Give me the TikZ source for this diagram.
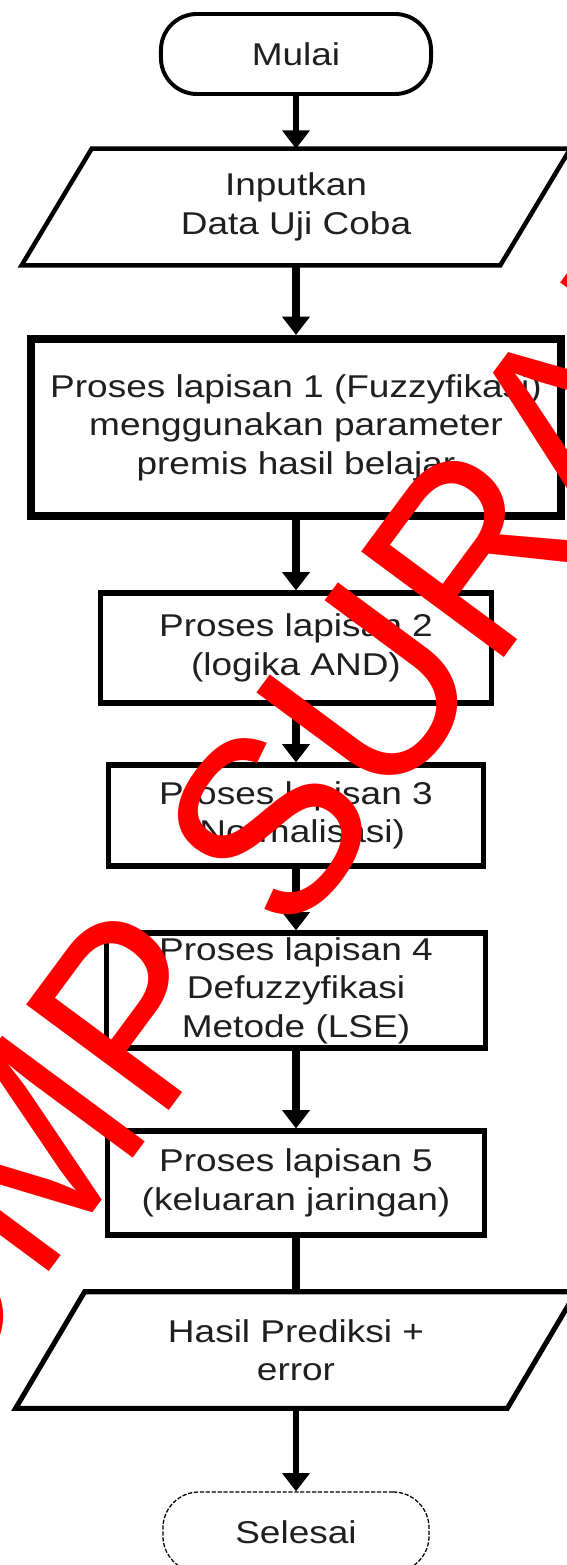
\documentclass[tikz,border=0pt]{standalone}
\usepackage{fontspec}
\setmainfont{Liberation Sans}[FakeStretch=1.175]
\newfontfamily\wmfont{Liberation Sans}[FakeStretch=0.935]
\usetikzlibrary{arrows.meta}

\newcommand{\flowfont}{\fontsize{22.4pt}{27.4pt}\selectfont}

\tikzset{
  flowtext/.style={font=\flowfont, align=center, inner sep=0pt, text=black!88},
  termbox/.style={flowtext, draw, line width=2.8pt, rounded corners=0.9cm},
  endbox/.style={flowtext, draw, line width=0.9pt, dash pattern=on 3pt off 1.2pt, rounded corners=0.9cm},
  procbox/.style={flowtext, draw, line width=3.6pt},
  bigbox/.style={flowtext, draw, line width=5.7pt},
  iobox/.style={flowtext},
  ioline/.style={line width=#1, line join=miter},
  thinarrow/.style={line width=3.6pt, -{Triangle[width=19pt,length=13pt]}},
  thickarrow/.style={line width=6pt, -{Triangle[width=19pt,length=13pt]}},
  thickline/.style={line width=6pt},
  watermark/.style={text=red, font=\wmfont\fontsize{183.5pt}{183.5pt}\selectfont,
    inner sep=0pt, anchor=base west}
}

\begin{document}
\begin{tikzpicture}[x=0.025cm, y=0.025cm]
  % page frame
  \fill[white] (0,0) rectangle (566,-1565);
  \useasboundingbox (0,0) rectangle (566,-1565);

  % flowchart nodes
  \node[termbox, minimum width=6.75cm, minimum height=2.0cm] (mulai) at (296,-54) {Mulai};

  \node[iobox, minimum width=13.7cm, minimum height=2.9cm] (input) at (296,-207)
    {Inputkan\\Data Uji Coba};
  \draw[ioline=3.2pt] ([xshift=1.75cm]input.north west) -- (input.north east)
    -- ([xshift=-1.75cm]input.south east) -- (input.south west) -- cycle;

  \node[bigbox, minimum width=13.225cm, minimum height=4.425cm] (lap1) at (296,-427.5)
    {Proses lapisan 1 (Fuzzyfikasi)\\menggunakan parameter\\premis hasil belajar};

  \node[procbox, minimum width=9.75cm, minimum height=2.75cm] (lap2) at (296,-648)
    {Proses lapisan 2\\(logika AND)};

  \node[procbox, minimum width=9.35cm, minimum height=2.525cm] (lap3) at (296,-815.5)
    {Proses lapisan 3\\(Normalisasi)};

  \node[procbox, minimum width=9.45cm, minimum height=2.875cm] (lap4) at (296,-990.5)
    {Proses lapisan 4\\Defuzzyfikasi\\Metode (LSE)};

  \node[procbox, minimum width=9.4cm, minimum height=2.6cm] (lap5) at (296,-1183)
    {Proses lapisan 5\\(keluaran jaringan)};

  \node[iobox, minimum width=14cm, minimum height=2.9cm] (hasil) at (296,-1350)
    {Hasil Prediksi +\\error};
  \draw[ioline=3.6pt] ([xshift=1.725cm]hasil.north west) -- (hasil.north east)
    -- ([xshift=-1.725cm]hasil.south east) -- (hasil.south west) -- cycle;

  \node[endbox, minimum width=6.65cm, minimum height=2.0cm] (selesai) at (296,-1532) {Selesai};

  % connectors
  \draw[thinarrow] (mulai.south) -- (input.north);
  \draw[thickarrow] (input.south) -- (lap1.north);
  \draw[thickarrow] (lap1.south) -- (lap2.north);
  \draw[thickarrow] (lap2.south) -- (lap3.north);
  \draw[thickarrow] (lap3.south) -- (lap4.north);
  \draw[thickarrow] (lap4.south) -- (lap5.north);
  \draw[thickline] (lap5.south) -- (hasil.north);
  \draw[thinarrow] (hasil.south) -- (selesai.north);

  % repository stamp across the page
  \begin{scope}
    \clip (0,0) rectangle (566,-1565);
    \node[watermark, rotate=53.5] (stamp) at (-66,-1428) {UMP SURABAYA};
  \end{scope}
\end{tikzpicture}
\end{document}
